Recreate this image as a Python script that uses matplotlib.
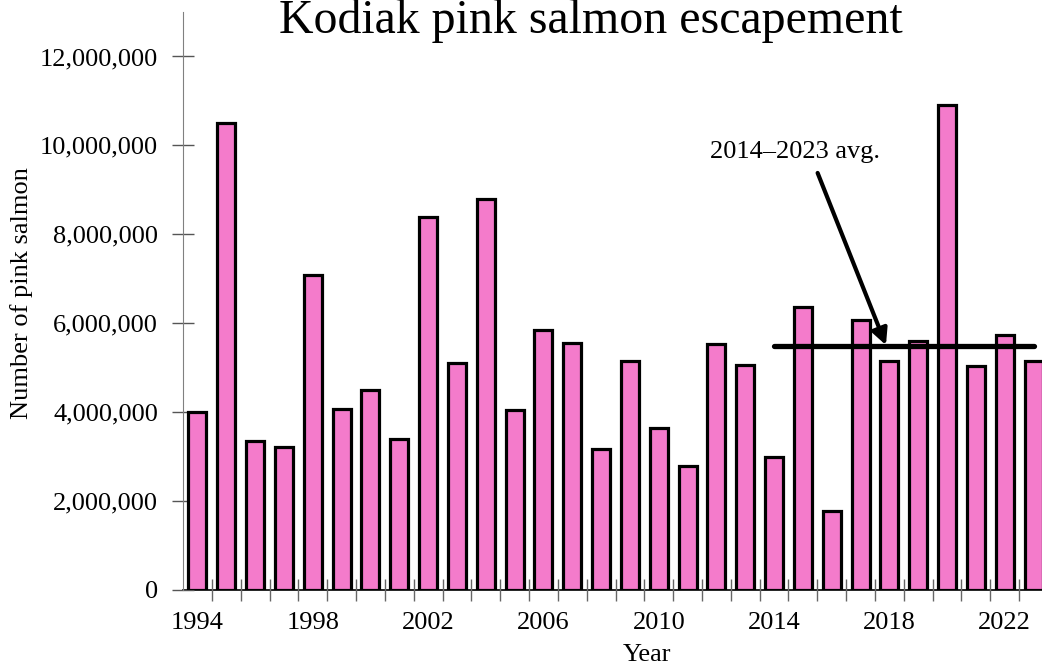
import matplotlib.pyplot as plt
from matplotlib.ticker import FuncFormatter, FixedLocator
import numpy as np

plt.rcParams['font.family'] = ['Liberation Serif', 'DejaVu Serif']

years = list(range(1994, 2024))
escapement = [4.00, 10.50, 3.35, 3.21, 7.09, 4.08, 4.49, 3.39, 8.40, 5.10,
              8.79, 4.04, 5.84, 5.55, 3.17, 5.14, 3.65, 2.79, 5.53, 5.07,
              2.99, 6.37, 1.77, 6.08, 5.15, 5.59, 10.91, 5.03, 5.73, 5.16]
escapement = [v * 1e6 for v in escapement]
label_years = [1994, 1998, 2002, 2006, 2010, 2014, 2018, 2022]
avg_start, avg_end = 2014, 2023

W, H = 1042, 665
fig = plt.figure(figsize=(W / 100, H / 100), dpi=100)
# axes box in pixels: left 183, right 1048 (runs slightly off the canvas), top 12, bottom 590
ax = fig.add_axes([183 / W, (H - 590) / H, (1048 - 183) / W, (590 - 12) / H])

idx = np.arange(len(years))
ax.bar(idx, escapement, width=0.62, color='#F47BCB', edgecolor='black',
       linewidth=2.3, zorder=2)

# average line over the last ten years
i0, i1 = years.index(avg_start), years.index(avg_end)
avg = np.mean(escapement[i0:i1 + 1])
ax.plot([i0, i1], [avg, avg], color='black', lw=3.8, solid_capstyle='round', zorder=3)

ax.set_xlim(-0.5, len(years) - 0.5)
ax.set_ylim(0, 13e6)

# arrow + label
ax.annotate('', xy=(23.88, avg + 0.03e6), xytext=(21.51, 9.38e6),
            arrowprops=dict(arrowstyle='-|>', lw=3, color='black',
                            mutation_scale=24, shrinkA=0, shrinkB=0), zorder=4)
ax.text(20.73, 9.715e6, '2014\u20132023 avg.', ha='center', va='baseline', fontsize=19)

ax.set_yticks(np.arange(0, 12e6 + 1, 2e6))
ax.yaxis.set_major_formatter(FuncFormatter(lambda v, p: f'{int(v):,}'))
ax.tick_params(axis='y', direction='inout', length=16, width=1, color='#555555',
               labelsize=19, pad=10)

ax.xaxis.set_major_locator(FixedLocator([years.index(y) for y in label_years]))
ax.set_xticklabels([str(y) for y in label_years])
ax.xaxis.set_minor_locator(FixedLocator(idx[1:] - 0.5))
ax.tick_params(axis='x', which='major', length=0, labelsize=19, pad=16)
ax.tick_params(axis='x', which='minor', direction='inout', length=16, width=1, color='#666666')

for s in ['top', 'right']:
    ax.spines[s].set_visible(False)
ax.spines['left'].set_color('#808080')
ax.spines['bottom'].set_color('black')
ax.spines['bottom'].set_linewidth(1.2)
ax.spines['bottom'].set_zorder(1)

fig.text(591 / W, 1 - 33 / H, 'Kodiak pink salmon escapement', ha='center',
         va='baseline', fontsize=34.5)
fig.text(22 / W, 1 - 293 / H, 'Number of pink salmon', rotation=90, ha='center',
         va='center', fontsize=19)
fig.text(647 / W, 1 - 661 / H, 'Year', ha='center', va='baseline', fontsize=19)

fig.savefig('out.png', dpi=100)
